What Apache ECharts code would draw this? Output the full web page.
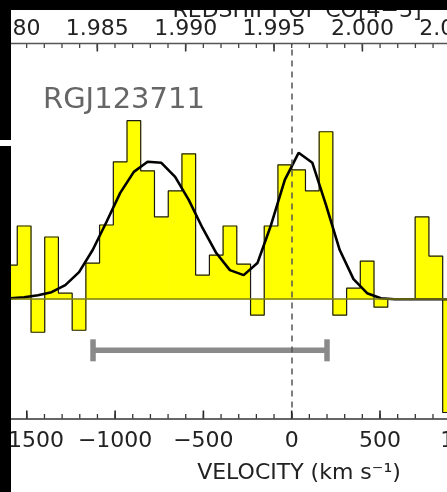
<!DOCTYPE html>
<html>
<head>
<meta charset="utf-8">
<script src="https://cdn.jsdelivr.net/npm/echarts@6/dist/echarts.min.js"></script>
<style>
html,body{margin:0;padding:0;background:#fff;}
#c{width:447px;height:492px;}
</style>
</head>
<body>
<div id="c"></div>
<script>
// ---- data ----
const sourceName = 'RGJ123711';
// channel centres (km/s)
const velocity = [-1593, -1515, -1437, -1360, -1282, -1204, -1127, -1049, -971, -894,
  -816, -738, -660, -583, -505, -427, -350, -272, -194, -117,
  -39, 39, 117, 194, 272, 350, 427, 505, 583, 660, 738, 816, 894];
// observed flux per channel
const flux = [0.34, 0.73, -0.33, 0.62, 0.06, -0.31, 0.36, 0.74, 1.37, 1.78,
  1.28, 0.82, 1.08, 1.45, 0.24, 0.44, 0.73, 0.35, -0.16, 0.73,
  1.34, 1.29, 1.08, 1.67, -0.16, 0.11, 0.38, -0.08, 0.00, 0.00, 0.82, 0.43, -1.13];
// fitted double-gaussian model sampled at channel centres
const model = [0.01, 0.02, 0.04, 0.07, 0.14, 0.27, 0.49, 0.77, 1.06, 1.27,
  1.37, 1.36, 1.22, 0.99, 0.71, 0.46, 0.29, 0.24, 0.36, 0.74,
  1.19, 1.46, 1.36, 0.94, 0.49, 0.20, 0.06, 0.01, 0, 0, 0, 0, 0];
const channelWidth = 77.7;
// grey bar: [v_start, v_end, level]
const errorBar = [[-1125, 200, -0.51]];
// axis ticks
const velocityTickInterval = 500;
const velocityMajor = [-1500, -1000, -500, 0, 500, 1000];
const redshiftMajor = [1.980, 1.985, 1.990, 1.995, 2.000, 2.005];
const zSys = 1.996;
const C_KMS = 299792.458;

// ---- layout ----
const vMin = -2000, vMax = 1500;
const yMin = -1.19, yMax = 2.55;
const zToV = z => (z - zSys) * C_KMS / (1 + zSys);
const redshiftMinor = [];
for (let i = 1977; i <= 2010; i++) redshiftMinor.push(i / 1000);
const velocityMinor = [];
for (let v = -1900; v <= 1400; v += 100) velocityMinor.push(v);

const FONT = 'DejaVu Sans';
const TXT = '#222';
const AX = '#333';

const histData = velocity.map((v, i) => [v, flux[i]]);
const modelData = velocity.map((v, i) => [v, model[i]]);

const chart = echarts.init(document.getElementById('c'));
chart.setOption({
  animation: false,
  backgroundColor: '#fff',
  grid: { left: -61.5, right: -109.6, top: 43.5, bottom: 73.5, containLabel: false, outerBoundsMode: 'none' },
  xAxis: {
    type: 'value', position: 'bottom', min: vMin, max: vMax, interval: velocityTickInterval,
    axisLine: { show: true, onZero: false, lineStyle: { color: AX, width: 1.5 } },
    axisTick: { show: false },
    axisLabel: { margin: 12, fontSize: 22, fontFamily: FONT, color: TXT,
      formatter: v => String(v).replace('-', '\u2212') },
    splitLine: { show: false }
  },
  yAxis: { type: 'value', min: yMin, max: yMax, show: false, splitLine: { show: false } },
  series: [
    {
      type: 'custom', name: 'fill', z: 1, silent: true,
      data: histData,
      encode: { x: 0, y: 1 },
      renderItem: (params, api) => {
        const v = api.value(0), f = api.value(1);
        const p1 = api.coord([v - channelWidth / 2, f]);
        const p2 = api.coord([v + channelWidth / 2, 0]);
        return {
          type: 'rect',
          shape: { x: p1[0], y: Math.min(p1[1], p2[1]), width: p2[0] - p1[0], height: Math.abs(p2[1] - p1[1]) },
          style: { fill: '#ffff00', stroke: '#ffff00', lineWidth: 0.8 }
        };
      }
    },
    {
      type: 'line', name: 'outline', z: 2, silent: true, step: 'middle',
      data: histData, showSymbol: false, symbol: 'none',
      lineStyle: { color: '#1a1a1a', width: 1.2 },
      markLine: {
        silent: true, symbol: 'none', label: { show: false },
        data: [
          { yAxis: 0, lineStyle: { color: '#7d7d1a', width: 1.6, type: 'solid' } },
          { xAxis: 0, lineStyle: { color: '#555', width: 1.5, type: [6, 5] } }
        ]
      }
    },
    {
      type: 'custom', name: 'range', z: 3, silent: true,
      data: errorBar,
      encode: { x: [0, 1], y: 2 },
      renderItem: (params, api) => {
        const a = api.coord([api.value(0), api.value(2)]);
        const b = api.coord([api.value(1), api.value(2)]);
        const h = 11;
        const st = { stroke: '#8a8a8a', lineWidth: 5.5 };
        return {
          type: 'group',
          children: [
            { type: 'line', shape: { x1: a[0], y1: a[1], x2: b[0], y2: b[1] }, style: st },
            { type: 'line', shape: { x1: a[0], y1: a[1] - h, x2: a[0], y2: a[1] + h }, style: st },
            { type: 'line', shape: { x1: b[0], y1: b[1] - h, x2: b[0], y2: b[1] + h }, style: st }
          ]
        };
      }
    },
    {
      type: 'line', name: 'model', z: 4, silent: true,
      data: modelData, showSymbol: false, symbol: 'none',
      lineStyle: { color: '#000', width: 2.6 }
    },
    {
      // axis frame: ticks on both axes and the redshift scale on top
      type: 'custom', name: 'axes', z: 6, silent: true, clip: false,
      data: [[vMin, vMax, yMin, yMax]],
      encode: { x: [0, 1], y: [2, 3] },
      renderItem: (params, api) => {
        const kids = [];
        const tick = (v, atTop, len, w, col) => {
          const p = api.coord([v, atTop ? yMax : yMin]);
          const d = atTop ? len : -len;
          kids.push({ type: 'rect', shape: { x: p[0] - w / 2, y: Math.min(p[1], p[1] + d), width: w, height: len },
            style: { fill: col } });
        };
        velocityMajor.forEach(v => tick(v, false, 8, 1.6, '#222'));
        velocityMinor.forEach(v => tick(v, false, 4.5, 1.3, '#333'));
        redshiftMajor.forEach(z => tick(zToV(z), true, 8, 1.6, '#333'));
        redshiftMinor.forEach(z => tick(zToV(z), true, 4.5, 1.3, '#444'));
        const l = api.coord([vMin, yMax]), r = api.coord([vMax, yMax]);
        kids.push({ type: 'rect', shape: { x: l[0], y: l[1] - 0.75, width: r[0] - l[0], height: 1.5 }, style: { fill: '#555' } });
        redshiftMajor.forEach(z => {
          const p = api.coord([zToV(z), yMax]);
          kids.push({ type: 'text', x: p[0], y: p[1] - 14.5,
            style: { text: z.toFixed(3), fontSize: 22, fontFamily: FONT, fill: TXT, align: 'center', verticalAlign: 'middle' } });
        });
        return { type: 'group', children: kids };
      }
    }
  ],
  graphic: [
    { type: 'text', z: 70, x: 297, y: 11,
      style: { text: 'REDSHIFT OF CO[4\u22123]', fontSize: 22, fontFamily: FONT, fill: TXT, align: 'center', verticalAlign: 'middle' } },
    { type: 'text', z: 70, x: 43, y: 100,
      style: { text: sourceName, fontSize: 29, fontFamily: FONT, fill: '#666', align: 'left', verticalAlign: 'middle' } },
    { type: 'text', z: 70, x: 299, y: 473,
      style: { text: 'VELOCITY (km s\u207B\u00B9)', fontSize: 22, fontFamily: FONT, fill: TXT, align: 'center', verticalAlign: 'middle' } },
    { type: 'rect', z: 100, shape: { x: 0, y: 0, width: 447, height: 10 }, style: { fill: '#000' } },
    { type: 'rect', z: 100, shape: { x: 0, y: 0, width: 11, height: 140 }, style: { fill: '#000' } },
    { type: 'rect', z: 100, shape: { x: 0, y: 146, width: 11, height: 346 }, style: { fill: '#000' } }
  ]
});
</script>
</body>
</html>
